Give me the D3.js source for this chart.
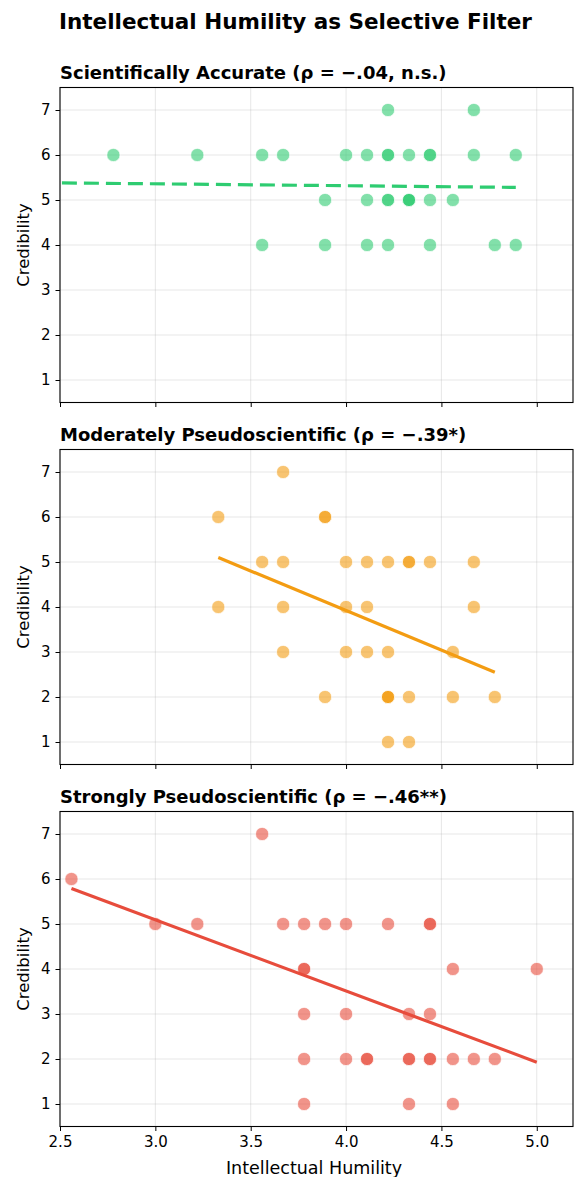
<!DOCTYPE html>
<html>
<head>
<meta charset="utf-8">
<script src="https://cdn.jsdelivr.net/npm/d3@7"></script>
<style>
  body { margin: 0; background: #fff; }
  svg { display: block; font-family: "DejaVu Sans", sans-serif; }
</style>
</head>
<body>
<div id="chart"></div>
<script>
// --- data ---
const panelTitles = [
  "Scientifically Accurate (ρ = −.04, n.s.)",
  "Moderately Pseudoscientific (ρ = −.39*)",
  "Strongly Pseudoscientific (ρ = −.46**)"
];
const panelColors = ["#2ecc71", "#f39c12", "#e74c3c"];

const accurateHumility = [4.22, 4.67,
  2.78, 3.22, 3.56, 3.67, 4.0, 4.11, 4.22, 4.22, 4.33, 4.44, 4.44, 4.67, 4.89,
  3.89, 4.11, 4.22, 4.22, 4.33, 4.33, 4.33, 4.44, 4.56,
  3.56, 3.89, 4.11, 4.22, 4.44, 4.78, 4.89];
const accurateCredibility = [7, 7,
  6, 6, 6, 6, 6, 6, 6, 6, 6, 6, 6, 6, 6,
  5, 5, 5, 5, 5, 5, 5, 5, 5,
  4, 4, 4, 4, 4, 4, 4];

const moderateHumility = [3.67,
  3.33, 3.89, 3.89,
  3.56, 3.67, 4.0, 4.11, 4.22, 4.33, 4.33, 4.44, 4.67,
  3.33, 3.67, 4.0, 4.11, 4.67,
  3.67, 4.0, 4.11, 4.22, 4.56,
  3.89, 4.22, 4.22, 4.22, 4.33, 4.56, 4.78,
  4.22, 4.33];
const moderateCredibility = [7,
  6, 6, 6,
  5, 5, 5, 5, 5, 5, 5, 5, 5,
  4, 4, 4, 4, 4,
  3, 3, 3, 3, 3,
  2, 2, 2, 2, 2, 2, 2,
  1, 1];

const strongHumility = [3.56,
  2.56,
  3.0, 3.22, 3.67, 3.78, 3.89, 4.0, 4.22, 4.44, 4.44,
  3.78, 3.78, 4.56, 5.0,
  3.78, 4.0, 4.33, 4.44,
  3.78, 4.0, 4.11, 4.11, 4.33, 4.33, 4.44, 4.44, 4.56, 4.67, 4.78,
  3.78, 4.33, 4.56];
const strongCredibility = [7,
  6,
  5, 5, 5, 5, 5, 5, 5, 5, 5,
  4, 4, 4, 4,
  3, 3, 3, 3,
  2, 2, 2, 2, 2, 2, 2, 2, 2, 2, 2,
  1, 1, 1];

// fitted lines: [humility, credibility] at each end
const accurateFit = [[2.51, 5.38], [4.89, 5.28]];
const moderateFit = [[3.33, 5.10], [4.78, 2.55]];
const strongFit = [[2.56, 5.79], [5.0, 1.93]];

const xTicks = [2.5, 3.0, 3.5, 4.0, 4.5, 5.0];
const yTicks = [1, 2, 3, 4, 5, 6, 7];

// --- layout ---
const W = 575, H = 1177;
const left = 60, right = 573;
const panelTops = [87.5, 449.5, 811.5];
const panelH = 315;

const panels = [
  { xs: accurateHumility, ys: accurateCredibility, fit: accurateFit, dashed: true },
  { xs: moderateHumility, ys: moderateCredibility, fit: moderateFit, dashed: false },
  { xs: strongHumility, ys: strongCredibility, fit: strongFit, dashed: false }
];

const svg = d3.select("#chart").append("svg")
  .attr("width", W).attr("height", H);
svg.append("rect").attr("width", W).attr("height", H).attr("fill", "#fff");

svg.append("text")
  .attr("x", 59).attr("y", 29)
  .attr("font-size", 21.5).attr("font-weight", "bold")
  .text("Intellectual Humility as Selective Filter");

const x = d3.scaleLinear().domain([2.5, 5.19]).range([left, right]);

panels.forEach((p, i) => {
  const top = panelTops[i];
  const y = d3.scaleLinear().domain([0.5, 7.5]).range([top + panelH, top]);
  const g = svg.append("g");
  const color = panelColors[i];

  // grid
  g.selectAll(".gx").data(xTicks).join("line")
    .attr("x1", d => x(d)).attr("x2", d => x(d))
    .attr("y1", top).attr("y2", top + panelH)
    .attr("stroke", "#b0b0b0").attr("stroke-opacity", 0.3).attr("stroke-width", 1);
  g.selectAll(".gy").data(yTicks).join("line")
    .attr("x1", left).attr("x2", right)
    .attr("y1", d => y(d)).attr("y2", d => y(d))
    .attr("stroke", "#b0b0b0").attr("stroke-opacity", 0.3).attr("stroke-width", 1);

  // points
  g.selectAll("circle").data(p.xs.map((v, k) => [v, p.ys[k]])).join("circle")
    .attr("cx", d => x(d[0])).attr("cy", d => y(d[1]))
    .attr("r", 6.6)
    .attr("fill", color).attr("fill-opacity", 0.6)
    .attr("stroke", "#fff").attr("stroke-width", 0.8).attr("stroke-opacity", 0.8);

  // fit line
  g.append("path")
    .datum(p.fit)
    .attr("d", d3.line().x(d => x(d[0])).y(d => y(d[1])))
    .attr("fill", "none").attr("stroke", color).attr("stroke-width", 3.2)
    .attr("stroke-dasharray", p.dashed ? "15,7" : null);

  // axes
  const yAxis = g.append("g").attr("transform", `translate(${left},0)`)
    .call(d3.axisLeft(y).tickValues(yTicks).tickFormat(d3.format("d")).tickSize(4.5).tickPadding(5));
  const xAxis = g.append("g").attr("transform", `translate(0,${top + panelH})`)
    .call(d3.axisBottom(x).tickValues(xTicks).tickFormat(i === 2 ? d3.format(".1f") : "").tickSize(4.5).tickPadding(5));
  [xAxis, yAxis].forEach(a => {
    a.select(".domain").remove();
    a.selectAll("line").attr("stroke", "#000").attr("stroke-width", 1);
    a.selectAll("text").attr("font-size", 15).attr("fill", "#000")
      .attr("font-family", "DejaVu Sans, sans-serif");
  });

  // frame
  g.append("rect")
    .attr("x", left).attr("y", top).attr("width", right - left).attr("height", panelH)
    .attr("fill", "none").attr("stroke", "#000").attr("stroke-width", 1.1);

  // titles
  g.append("text")
    .attr("x", left).attr("y", top - 9)
    .attr("font-size", 18).attr("font-weight", "bold")
    .text(panelTitles[i]);

  g.append("text")
    .attr("transform", `translate(29,${top + panelH / 2}) rotate(-90)`)
    .attr("text-anchor", "middle")
    .attr("font-size", 16.5)
    .text("Credibility");
});

svg.append("text")
  .attr("x", 314).attr("y", 1174)
  .attr("text-anchor", "middle")
  .attr("font-size", 17.5)
  .text("Intellectual Humility");
</script>
</body>
</html>
